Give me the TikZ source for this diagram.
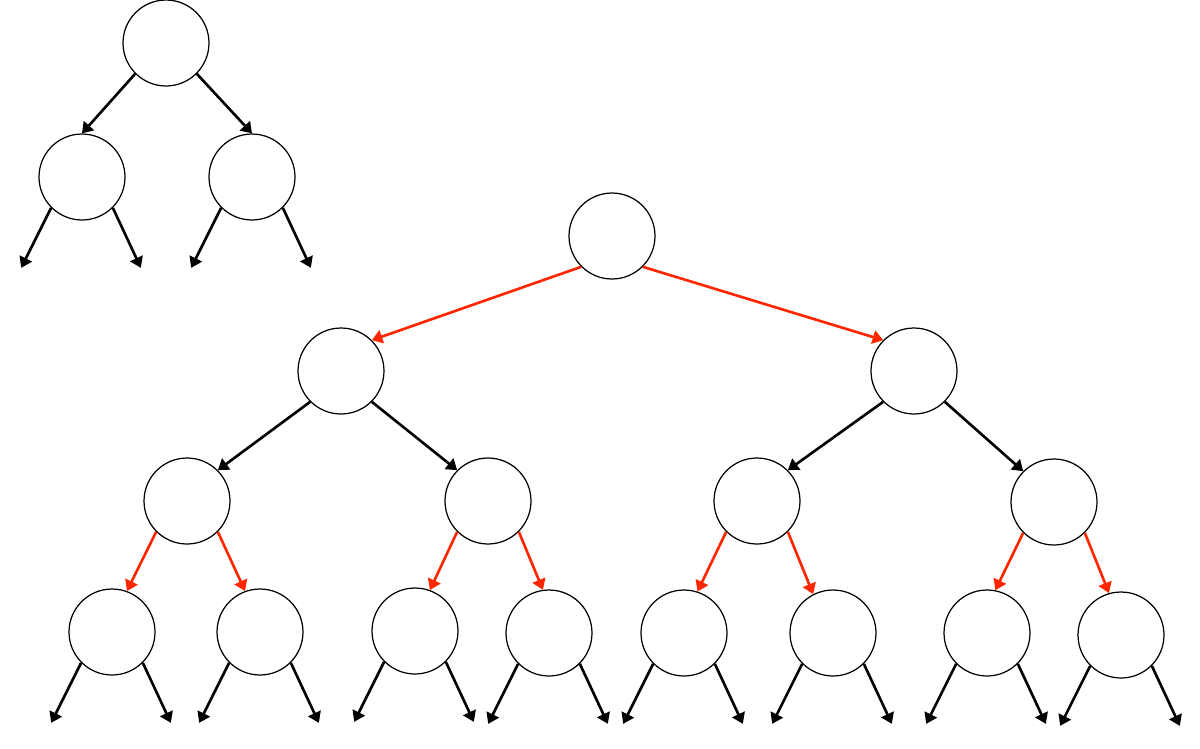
\documentclass[tikz,border=0pt]{standalone}
\usetikzlibrary{arrows.meta}
\definecolor{hotred}{RGB}{255,38,0}
\begin{document}
\begin{tikzpicture}[x=0.02cm, y=-0.02cm,
  vertex/.style={draw=black, circle, line width=0.7pt, minimum size=1.72cm, inner sep=0pt, fill=white},
  edge/.style={draw=black, line width=1.5pt, -{Triangle[length=0.21cm, width=0.27cm]}},
  hot/.style={edge, draw=hotred, fill=hotred}
]
\useasboundingbox (0,0) rectangle (1200,748);

% small tree
\node[vertex] (s) at (166,43) {};
\node[vertex] (sl) at (82,177) {};
\node[vertex] (sr) at (252,177) {};

% big tree
\node[vertex] (r) at (612,236) {};
\node[vertex] (a) at (341,371) {};
\node[vertex] (b) at (914,371) {};
\node[vertex] (aa) at (187,501) {};
\node[vertex] (ab) at (488,501) {};
\node[vertex] (ba) at (757,501) {};
\node[vertex] (bb) at (1054,502) {};
\node[vertex] (l1) at (112,632) {};
\node[vertex] (l2) at (260,632) {};
\node[vertex] (l3) at (415,631) {};
\node[vertex] (l4) at (549,633) {};
\node[vertex] (l5) at (684,633) {};
\node[vertex] (l6) at (833,633) {};
\node[vertex] (l7) at (987,633) {};
\node[vertex] (l8) at (1121,635) {};

\draw[edge] (s.south west) -- (sl.north);
\draw[edge] (s.south east) -- (sr.north);

\draw[hot] (r.south west) -- (a.north east);
\draw[hot] (r.south east) -- (b.north west);
\draw[edge] (a.south west) -- (aa.north east);
\draw[edge] (a.south east) -- (ab.north west);
\draw[edge] (b.south west) -- (ba.north east);
\draw[edge] (b.south east) -- (bb.north west);

\draw[hot] (aa.south west) -- (l1.70);
\draw[hot] (aa.south east) -- (l2.110);
\draw[hot] (ab.south west) -- (l3.70);
\draw[hot] (ab.south east) -- (l4.98);
\draw[hot] (ba.south west) -- (l5.72);
\draw[hot] (ba.south east) -- (l6.117);
\draw[hot] (bb.south west) -- (l7.79);
\draw[hot] (bb.south east) -- (l8.106);

% open ends
\foreach \n in {sl,sr,l1,l2,l3,l4,l5,l6,l7,l8} {
  \path (\n.south west) ++(-30,60) coordinate (\n-out1);
  \path (\n.south east) ++(28,60) coordinate (\n-out2);
  \draw[edge] (\n.south west) -- (\n-out1);
  \draw[edge] (\n.south east) -- (\n-out2);
}
\end{tikzpicture}
\end{document}
